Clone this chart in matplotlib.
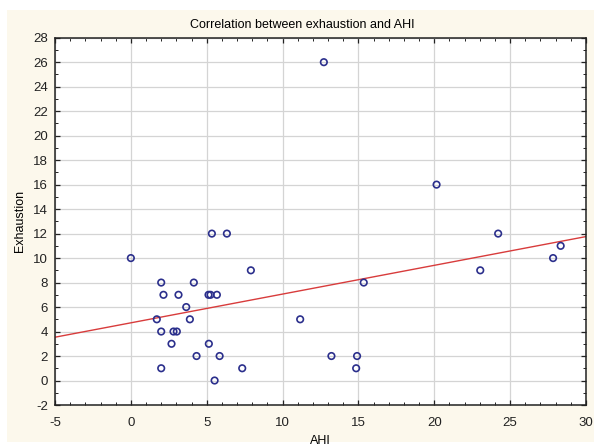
import matplotlib
matplotlib.use("Agg")
import matplotlib.pyplot as plt
from matplotlib.patches import Rectangle
from matplotlib.ticker import MultipleLocator
import numpy as np

# AHI vs exhaustion score
ahi = [5.34, 6.33, 0.0, 7.91, 2.0, 4.15, 2.15, 3.14, 5.12, 5.25, 5.67, 3.65,
       1.71, 3.89, 2.0, 2.81, 3.03, 2.68, 5.14, 4.33, 5.85, 2.0, 7.34, 5.52,
       12.72, 20.15, 24.21, 28.33, 27.83, 23.03, 15.35, 11.16, 13.22, 14.91, 14.85]
exhaustion = [12, 12, 10, 9, 8, 8, 7, 7, 7, 7, 7, 6,
              5, 5, 4, 4, 4, 3, 3, 2, 2, 1, 1, 0,
              26, 16, 12, 11, 10, 9, 8, 5, 2, 2, 1]

plt.rcParams["font.family"] = ["Liberation Sans", "DejaVu Sans"]
plt.rcParams["axes.unicode_minus"] = False

fig = plt.figure(figsize=(5.94, 4.46), dpi=100)
fig.patches.append(Rectangle((7 / 594, 4 / 446), 1, 432 / 446,
                             transform=fig.transFigure, facecolor="#fcf8ec",
                             edgecolor="none", zorder=-10))
ax = fig.add_axes([55 / 594, 41 / 446, 531 / 594, 367.3 / 446])
ax.set_facecolor("white")

ax.set_xlim(-5, 30)
ax.set_ylim(-2, 28)
ax.xaxis.set_major_locator(MultipleLocator(5))
ax.xaxis.set_minor_locator(MultipleLocator(1))
ax.yaxis.set_major_locator(MultipleLocator(2))
ax.yaxis.set_minor_locator(MultipleLocator(1))
ax.grid(True, which="major", color="#d4d4d4", linewidth=0.9)
ax.set_axisbelow(True)

# linear fit
slope, intercept = np.polyfit(ahi, exhaustion, 1)
xs = np.array([-5, 30])
ax.plot(xs, intercept + slope * xs, color="#d83c3c", linewidth=1.0, zorder=2)

ax.scatter(ahi, exhaustion, s=22, facecolors="none", edgecolors="#2b2f8c",
           linewidths=1.2, zorder=3)

for s in ax.spines.values():
    s.set_color("#222222")
    s.set_linewidth(1.1)

ax.tick_params(which="both", direction="in", top=True, right=True, colors="#222222",
               labelsize=9.5)
ax.tick_params(which="major", length=3.5, width=0.9)
ax.tick_params(which="minor", length=2, width=0.7)
ax.tick_params(axis="y", pad=5)
ax.tick_params(axis="x", pad=9)

# title sits centred on the figure, not the axes
fig.text(0.508, 1 - 25 / 446, "Correlation between exhaustion and AHI",
         fontsize=9, ha="center", va="center")
ax.set_xlabel("AHI", fontsize=9, labelpad=4)
ax.set_ylabel("Exhaustion", fontsize=9, labelpad=5)

fig.savefig("out.png", dpi=100)
plt.close(fig)
